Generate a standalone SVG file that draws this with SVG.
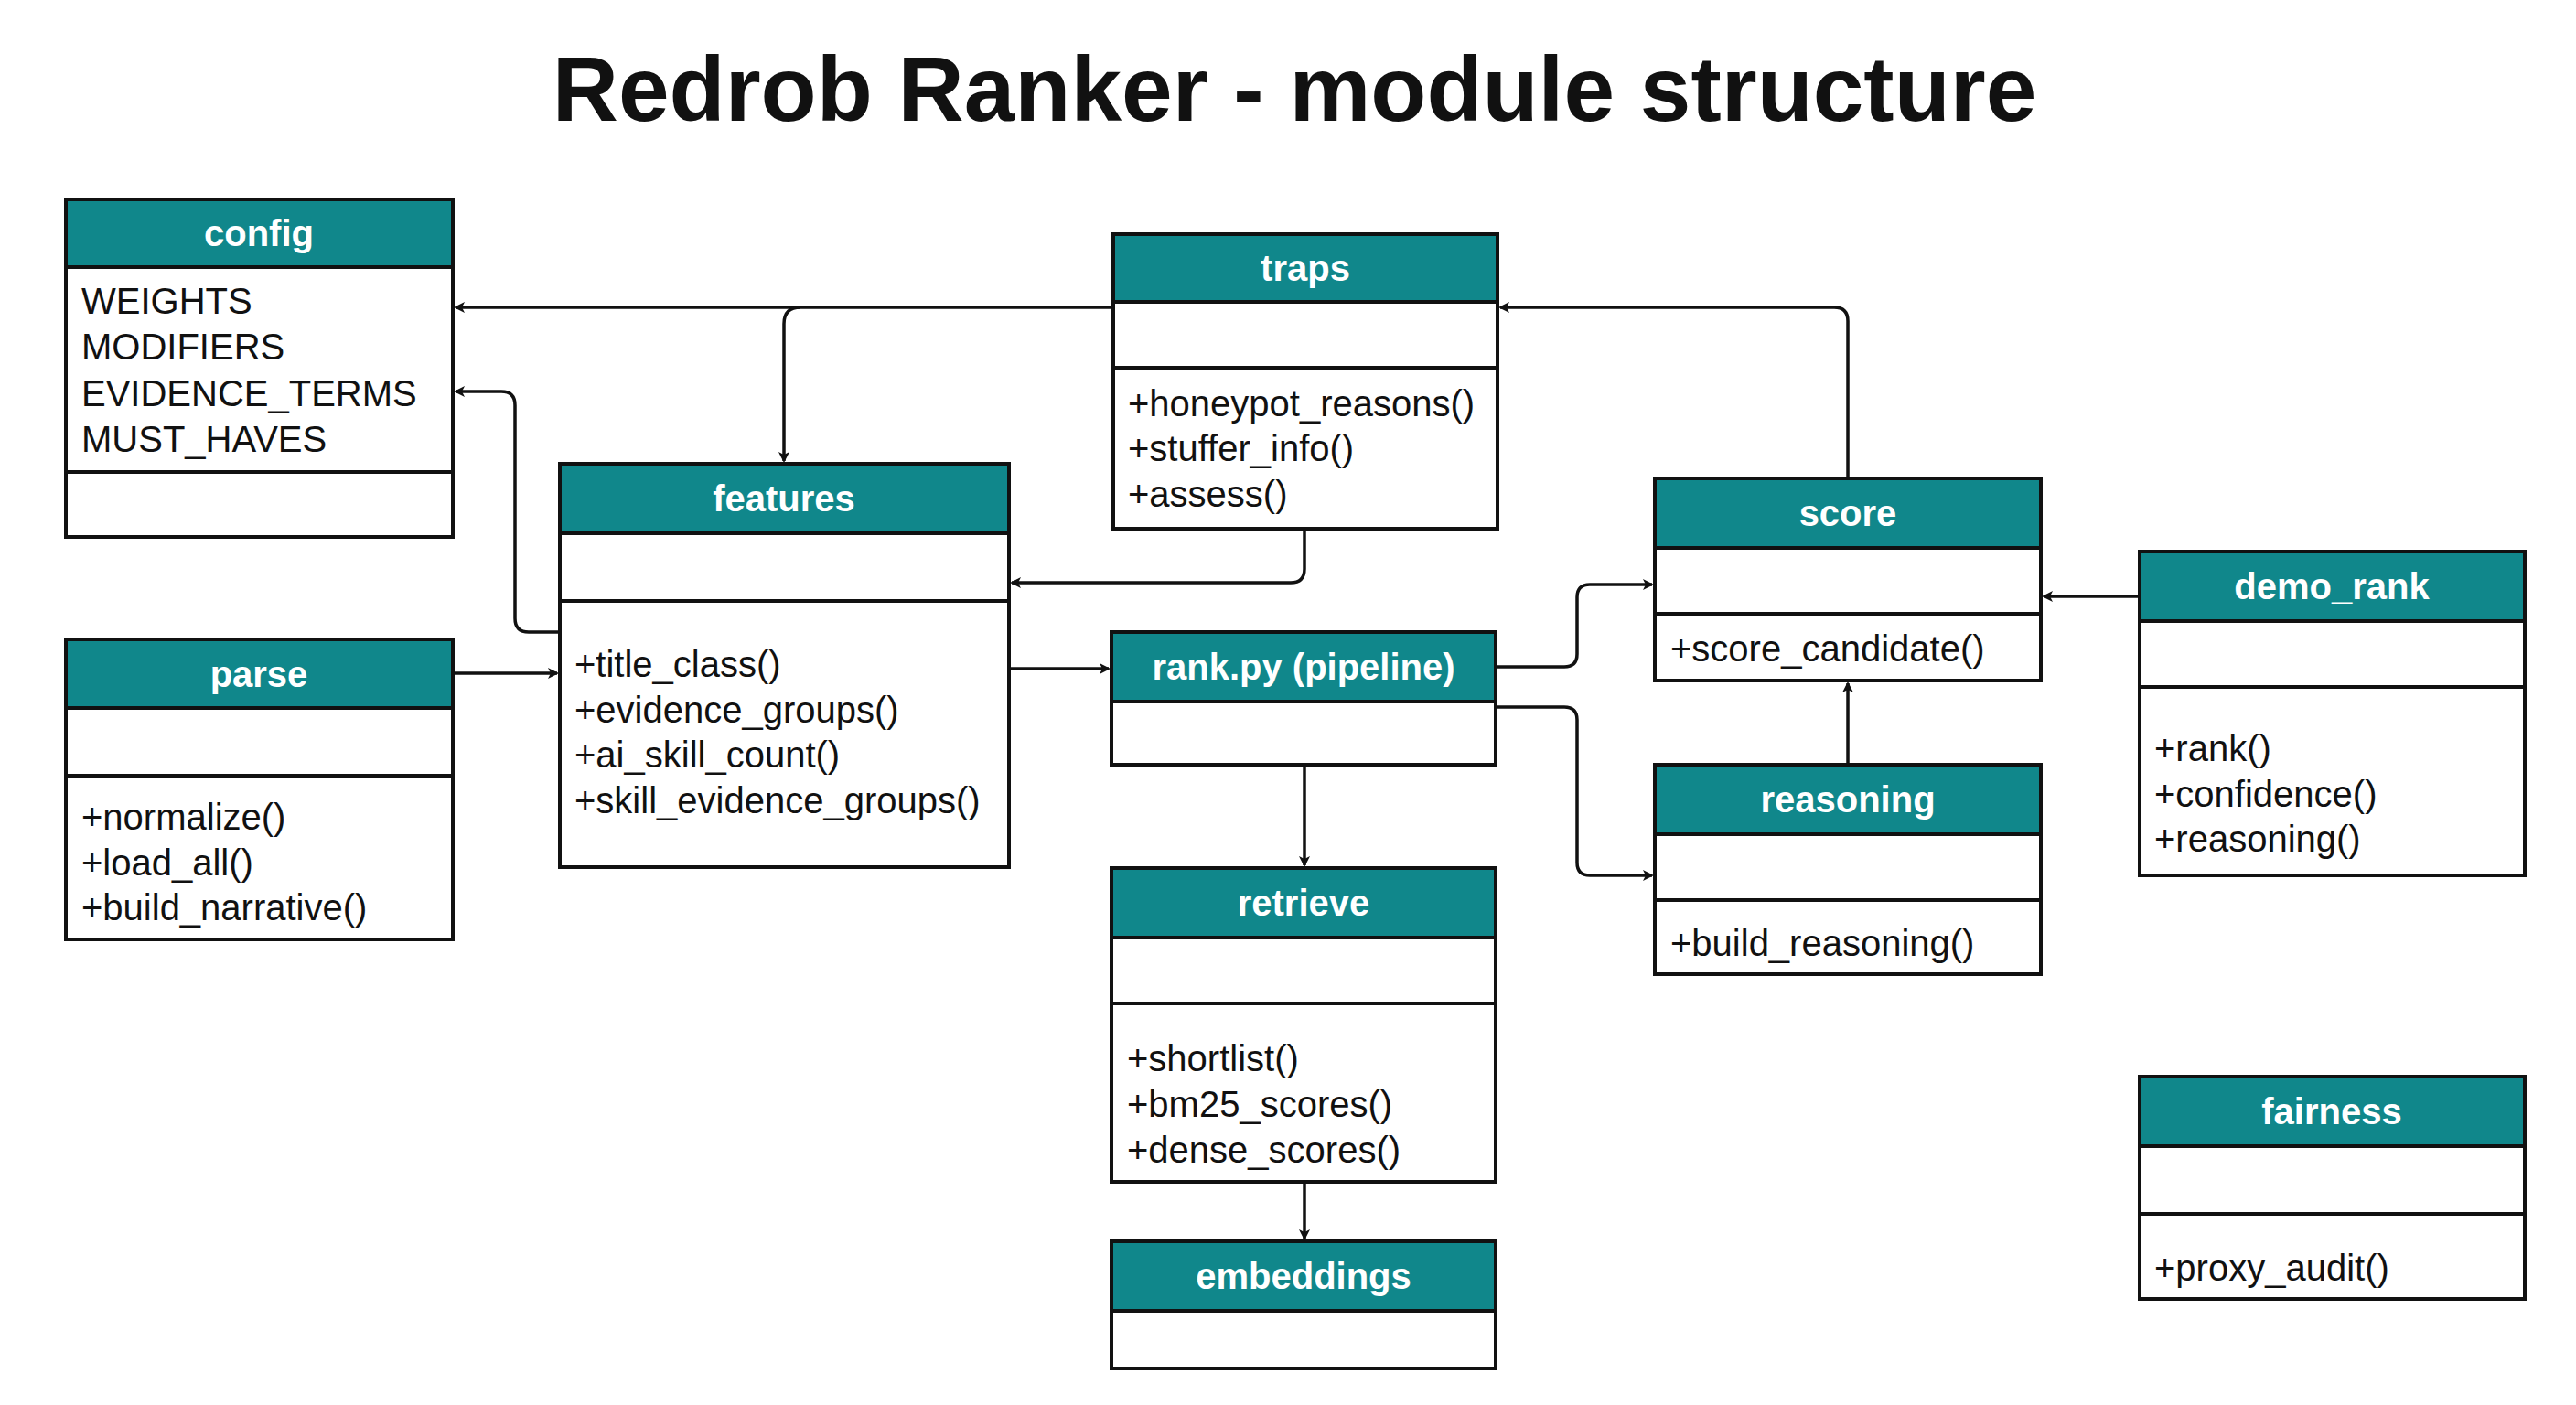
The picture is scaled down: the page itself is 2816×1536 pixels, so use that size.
<svg xmlns="http://www.w3.org/2000/svg" width="2816" height="1536" viewBox="0 0 2816 1536">
<style>
.box{fill:#fff;stroke:#111;stroke-width:4}
.hdr{fill:#10878b;stroke:#111;stroke-width:4}
.div{stroke:#111;stroke-width:4}
.ht{font-family:"Liberation Sans",Arial,sans-serif;font-weight:bold;font-size:40px;fill:#fff;text-anchor:middle}
.t{font-family:"Liberation Sans",Arial,sans-serif;font-size:40px;fill:#111}
.c{fill:none;stroke:#111;stroke-width:3.5;marker-end:url(#a)}
</style>
<defs><marker id="a" markerWidth="12" markerHeight="12" refX="10" refY="6" orient="auto" markerUnits="userSpaceOnUse" viewBox="0 0 12 12"><path d="M0,0 L12,6 L0,12 L3,6 Z" fill="#111"/></marker></defs>
<rect width="2816" height="1536" fill="#fff"/>
<text x="1415" y="132" font-family="'Liberation Sans',Arial,sans-serif" font-weight="bold" font-size="100" text-anchor="middle" fill="#111">Redrob Ranker - module structure</text>
<g id="connectors">
<path class="c" d="M1217 336 H498"/>
<path class="c" d="M875 336 Q857 336 857 354 V504"/>
<path class="c" d="M612 691 H578 Q563 691 563 676 V443 Q563 428 548 428 H498"/>
<path class="c" d="M1426 578 V622 Q1426 637 1411 637 H1106"/>
<path class="c" d="M2020 523 V351 Q2020 336 2005 336 H1640"/>
<path class="c" d="M495 736 H609"/>
<path class="c" d="M1103 731 H1212"/>
<path class="c" d="M1635 729 H1710 Q1724 729 1724 715 V653 Q1724 639 1738 639 H1806"/>
<path class="c" d="M1635 773 H1710 Q1724 773 1724 787 V943 Q1724 957 1738 957 H1806"/>
<path class="c" d="M2020 836 V747"/>
<path class="c" d="M2339 652 H2234"/>
<path class="c" d="M1426 836 V946"/>
<path class="c" d="M1426 1292 V1354"/>
</g>
<g id="config"><rect class="box" x="72" y="218" width="423" height="369"/><rect class="hdr" x="72" y="218" width="423" height="74"/><line class="div" x1="72" y1="516" x2="495" y2="516"/><text class="ht" x="283" y="269">config</text>
<text class="t" x="89" y="343">WEIGHTS</text><text class="t" x="89" y="393">MODIFIERS</text><text class="t" x="89" y="444">EVIDENCE_TERMS</text><text class="t" x="89" y="494">MUST_HAVES</text></g>
<g id="traps"><rect class="box" x="1217" y="256" width="420" height="322"/><rect class="hdr" x="1217" y="256" width="420" height="74"/><line class="div" x1="1217" y1="402" x2="1637" y2="402"/><text class="ht" x="1427" y="307">traps</text>
<text class="t" x="1233" y="455">+honeypot_reasons()</text><text class="t" x="1233" y="504">+stuffer_info()</text><text class="t" x="1233" y="554">+assess()</text></g>
<g id="features"><rect class="box" x="612" y="507" width="491" height="441"/><rect class="hdr" x="612" y="507" width="491" height="76"/><line class="div" x1="612" y1="657" x2="1103" y2="657"/><text class="ht" x="857" y="559">features</text>
<text class="t" x="628" y="740">+title_class()</text><text class="t" x="628" y="790">+evidence_groups()</text><text class="t" x="628" y="839">+ai_skill_count()</text><text class="t" x="628" y="889">+skill_evidence_groups()</text></g>
<g id="parse"><rect class="box" x="72" y="699" width="423" height="328"/><rect class="hdr" x="72" y="699" width="423" height="75"/><line class="div" x1="72" y1="848" x2="495" y2="848"/><text class="ht" x="283" y="751">parse</text>
<text class="t" x="89" y="907">+normalize()</text><text class="t" x="89" y="957">+load_all()</text><text class="t" x="89" y="1006">+build_narrative()</text></g>
<g id="rank"><rect class="box" x="1215" y="691" width="420" height="145"/><rect class="hdr" x="1215" y="691" width="420" height="76"/><text class="ht" x="1425" y="743">rank.py (pipeline)</text></g>
<g id="score"><rect class="box" x="1809" y="523" width="422" height="221"/><rect class="hdr" x="1809" y="523" width="422" height="76"/><line class="div" x1="1809" y1="671" x2="2231" y2="671"/><text class="ht" x="2020" y="575">score</text>
<text class="t" x="1826" y="723">+score_candidate()</text></g>
<g id="demo_rank"><rect class="box" x="2339" y="603" width="421" height="354"/><rect class="hdr" x="2339" y="603" width="421" height="76"/><line class="div" x1="2339" y1="751" x2="2760" y2="751"/><text class="ht" x="2549" y="655">demo_rank</text>
<text class="t" x="2355" y="832">+rank()</text><text class="t" x="2355" y="882">+confidence()</text><text class="t" x="2355" y="931">+reasoning()</text></g>
<g id="reasoning"><rect class="box" x="1809" y="836" width="422" height="229"/><rect class="hdr" x="1809" y="836" width="422" height="76"/><line class="div" x1="1809" y1="984" x2="2231" y2="984"/><text class="ht" x="2020" y="888">reasoning</text>
<text class="t" x="1826" y="1045">+build_reasoning()</text></g>
<g id="retrieve"><rect class="box" x="1215" y="949" width="420" height="343"/><rect class="hdr" x="1215" y="949" width="420" height="76"/><line class="div" x1="1215" y1="1097" x2="1635" y2="1097"/><text class="ht" x="1425" y="1001">retrieve</text>
<text class="t" x="1232" y="1171">+shortlist()</text><text class="t" x="1232" y="1221">+bm25_scores()</text><text class="t" x="1232" y="1271">+dense_scores()</text></g>
<g id="embeddings"><rect class="box" x="1215" y="1357" width="420" height="139"/><rect class="hdr" x="1215" y="1357" width="420" height="76"/><text class="ht" x="1425" y="1409">embeddings</text></g>
<g id="fairness"><rect class="box" x="2339" y="1177" width="421" height="243"/><rect class="hdr" x="2339" y="1177" width="421" height="76"/><line class="div" x1="2339" y1="1327" x2="2760" y2="1327"/><text class="ht" x="2549" y="1229">fairness</text>
<text class="t" x="2355" y="1400">+proxy_audit()</text></g>
</svg>
